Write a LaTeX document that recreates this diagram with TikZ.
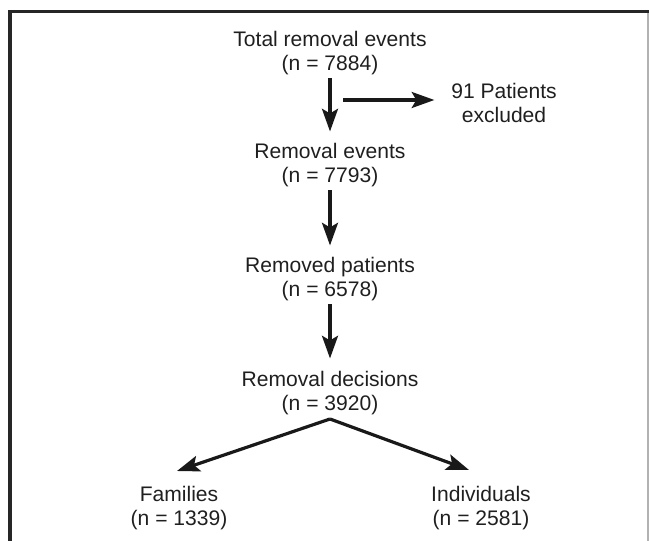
\documentclass[tikz,border=0pt]{standalone}
\usepackage{fontspec}
\setmainfont{Liberation Sans}
\usetikzlibrary{arrows.meta}

\begin{document}
\begin{tikzpicture}[x=0.75pt,y=-0.75pt,
    stage/.style={align=center,font=\fontsize{15.8}{18}\selectfont,text=black!88,inner sep=0pt,anchor=base},
    flow/.style={line width=2.4pt,draw=black!90,-{Stealth[length=17pt,width=12pt,inset=3.5pt]}}]
    \useasboundingbox (0,0) rectangle (649,541);

    % frame
    \draw[line width=2.5pt,draw=black!85] (10,541) -- (10,11.7) -- (649,11.7);
    \draw[line width=0.8pt,draw=black!30] (648,13) -- (648,541);

    \foreach \n/\y/\t in {total/71/Total removal events\\(n = 7884),
                          events/183/Removal events\\(n = 7793),
                          patients/297/Removed patients\\(n = 6578),
                          decisions/410/Removal decisions\\(n = 3920)} {
        \node[stage] (\n) at (330,\y) {\t};
    }
    \node[stage] (excluded) at (504,123) {91 Patients\\excluded};
    \node[stage] (families) at (179,525) {Families\\(n = 1339)};
    \node[stage] (individuals) at (481,525) {Individuals\\(n = 2581)};

    \coordinate (branch) at (343,100);
    \coordinate (split) at (330,419);
    \coordinate (famtip) at (177,471);
    \coordinate (indtip) at (469,470);

    \draw[flow,shorten <=2pt,shorten >=9pt] (total) -- (events);
    \draw[flow,shorten <=2pt,shorten >=9pt] (events) -- (patients);
    \draw[flow,shorten <=2pt,shorten >=9pt] (patients) -- (decisions);
    \draw[flow,shorten >=12.5pt] (branch) -- (branch -| excluded.west);
    \draw[flow] (split) -- (famtip);
    \draw[flow] (split) -- (indtip);

\end{tikzpicture}
\end{document}
